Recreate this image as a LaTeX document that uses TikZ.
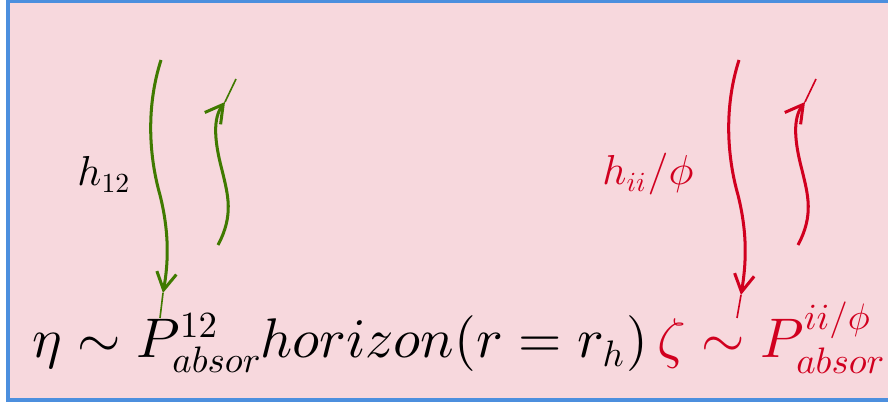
\documentclass[tikz,border=0pt]{standalone}
\usetikzlibrary{arrows.meta,calc}
\DeclareFontShape{OML}{cmm}{m}{it}{<->cmmi10}{}
\DeclareFontShape{OT1}{cmr}{m}{n}{<->cmr10}{}
\DeclareMathSizes{10}{10}{6.6}{5}
\definecolor{BoxClr}{rgb}{0.969,0.847,0.867}
\definecolor{FrameClr}{rgb}{0.30,0.56,0.87}
\definecolor{GreenClr}{rgb}{0.25,0.48,0}
\definecolor{RedClr}{rgb}{0.82,0,0.12}
\newcommand{\bigmath}[1]{\scalebox{2.4}{$#1$}}
\newcommand{\midmath}[1]{\scalebox{1.8}{$#1$}}

\begin{document}
\begin{tikzpicture}[x=0.43pt,y=-0.43pt,
  wave/.style={line width=1.3pt,-{Straight Barb[length=7.5pt,width=8.5pt]}},
  spike/.style={line width=0.7pt},
  lbl/.style={inner sep=0pt,anchor=base west}]
\useasboundingbox (0,0) rectangle (888,402);
\draw[line width=1.4pt,draw=FrameClr,fill=BoxClr] (8,1.5) rectangle (905,400);

% formula along the horizon
\node[lbl] (eta) at (32,358) {\bigmath{\eta\sim P^{12}_{absor}}};
\node[lbl] (hor) at (260,358) {\bigmath{horizon(r=r_h)}};
\node[lbl,text=RedClr] (zeta) at (657,358) {\bigmath{\zeta\sim P^{ii/\phi}_{absor}}};

\node[lbl] (h12) at (77,186) {\midmath{h_{12}}};
\node[lbl,text=RedClr] (hii) at (602,185) {\midmath{h_{ii}/\phi}};

% green waves
\coordinate (gin) at (161,60);
\coordinate (gj) at (163,293);
\coordinate (gt) at (160,318);
\coordinate (gout) at (218,245);
\coordinate (gk) at (225,102);
\coordinate (gu) at (236,79);

\draw[wave,GreenClr] (gin) .. controls (145,110) and (150,160) .. (160,195)
  .. controls (170,235) and (168,265) .. (gj);
\draw[spike,GreenClr] (gj) -- (gt);
\draw[wave,GreenClr] (gout) .. controls (234,215) and (228,195) .. (222,170)
  .. controls (214,140) and (213,118) .. (gk);
\draw[spike,GreenClr] (gk) -- (gu);

% red waves
\coordinate (rin) at (739,60);
\coordinate (rj) at (741,295);
\coordinate (rt) at (737,318);
\coordinate (rout) at (798,245);
\coordinate (rk) at (805,102);
\coordinate (ru) at (816,79);

\draw[wave,RedClr] (rin) .. controls (723,110) and (728,160) .. (738,195)
  .. controls (748,235) and (746,265) .. (rj);
\draw[spike,RedClr] (rj) -- (rt);
\draw[wave,RedClr] (rout) .. controls (814,215) and (808,195) .. (802,170)
  .. controls (794,140) and (793,118) .. (rk);
\draw[spike,RedClr] (rk) -- (ru);

\end{tikzpicture}
\end{document}
